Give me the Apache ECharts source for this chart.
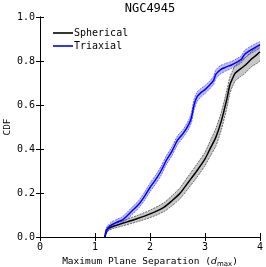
<!DOCTYPE html>
<html><head><meta charset="utf-8">
<script src="https://cdn.jsdelivr.net/npm/echarts@6/dist/echarts.min.js"></script>
<style>html,body{margin:0;padding:0;background:#fff}#c{width:266px;height:267px}</style>
</head><body><div id="c"></div>
<script>
var title = 'NGC4945';
var xTicks = [0, 1, 2, 3, 4];
var yTicks = [0.0, 0.2, 0.4, 0.6, 0.8, 1.0];

var sphX  = [1.18,1.20,1.25,1.35,1.50,1.75,2.00,2.25,2.40,2.55,2.70,2.85,3.00,3.10,3.20,3.30,3.40,3.45,3.50,3.55,3.65,3.75,3.85,3.95,4.00];
var sphMid= [0.000,0.025,0.040,0.050,0.062,0.082,0.105,0.135,0.165,0.200,0.250,0.300,0.355,0.405,0.455,0.530,0.630,0.690,0.720,0.745,0.765,0.785,0.810,0.830,0.842];
var sphLo = [0.000,0.015,0.030,0.040,0.050,0.068,0.088,0.115,0.142,0.175,0.222,0.270,0.325,0.370,0.415,0.490,0.590,0.650,0.685,0.710,0.730,0.750,0.775,0.790,0.800];
var sphHi = [0.000,0.035,0.050,0.060,0.074,0.096,0.122,0.155,0.188,0.225,0.278,0.330,0.385,0.440,0.495,0.570,0.670,0.725,0.755,0.780,0.800,0.820,0.845,0.865,0.878];

var triX  = [1.18,1.20,1.22,1.30,1.40,1.50,1.60,1.70,1.80,1.90,2.00,2.10,2.20,2.30,2.40,2.50,2.60,2.70,2.75,2.80,2.85,2.92,3.00,3.08,3.15,3.20,3.28,3.38,3.48,3.58,3.66,3.72,3.80,3.90,4.00];
var triMid= [0.000,0.020,0.035,0.055,0.068,0.078,0.100,0.125,0.150,0.185,0.225,0.260,0.300,0.350,0.390,0.440,0.470,0.510,0.540,0.600,0.635,0.655,0.670,0.690,0.710,0.740,0.760,0.772,0.782,0.795,0.808,0.830,0.845,0.860,0.873];
var triLo = [0.000,0.008,0.022,0.042,0.055,0.064,0.084,0.108,0.133,0.167,0.206,0.240,0.280,0.330,0.370,0.420,0.452,0.490,0.518,0.576,0.614,0.636,0.652,0.672,0.692,0.720,0.741,0.755,0.766,0.779,0.792,0.812,0.828,0.844,0.858];
var triHi = [0.000,0.032,0.048,0.068,0.081,0.092,0.116,0.142,0.167,0.203,0.244,0.280,0.320,0.370,0.410,0.460,0.488,0.530,0.562,0.624,0.656,0.674,0.688,0.708,0.728,0.760,0.779,0.789,0.798,0.811,0.824,0.848,0.862,0.876,0.888];

function pairs(xs, ys){ return xs.map(function(x,i){ return [x, ys[i]]; }); }

function bandSeries(name, xs, lo, hi, fill){
  return {
    type: 'custom', name: name + ' band', silent: true, z: 1,
    data: [[xs[0], lo[0]]],
    renderItem: function(params, api){
      var pts = [];
      for (var i = 0; i < xs.length; i++) pts.push(api.coord([xs[i], hi[i]]));
      for (var j = xs.length - 1; j >= 0; j--) pts.push(api.coord([xs[j], lo[j]]));
      return { type: 'polygon', shape: { points: pts }, style: { fill: fill, stroke: null } };
    }
  };
}
function edgeSeries(name, xs, ys, color){
  return { type: 'line', name: name, data: pairs(xs, ys), symbol: 'none', z: 2, silent: true, smooth: 0.25,
    lineStyle: { color: color, width: 0.7, type: [2, 1] } };
}

var mono = 'DejaVu Sans Mono';
var chart = echarts.init(document.getElementById('c'), null, { renderer: 'canvas' });
chart.setOption({
  animation: false,
  backgroundColor: '#fff',
  title: { text: title, left: 150, textAlign: 'center', top: 3, padding: 0,
    textStyle: { fontFamily: mono, fontSize: 12, fontWeight: 'normal', color: '#000' } },
  legend: { orient: 'vertical', left: 53, top: 28, padding: 0,
    itemWidth: 20, itemHeight: 1.6, itemGap: 3,
    data: [{ name: 'Spherical', icon: 'rect', itemStyle: { color: '#000' } },
           { name: 'Triaxial', icon: 'rect', itemStyle: { color: '#0000ff' } }],
    textStyle: { fontFamily: mono, fontSize: 10, color: '#000', padding: [0,0,0,-4] } },
  grid: { left: 40, right: 6, top: 17, bottom: 30, containLabel: false, outerBoundsMode: 'none' },
  xAxis: [{
    type: 'value', min: 0, max: 4, interval: 1,
    name: 'Maximum Plane Separation ({i|d}{s|max})', nameLocation: 'middle', nameGap: 19,
    nameMoveOverlap: false,
    nameTextStyle: { fontFamily: mono, fontSize: 9.5, color: '#000',
      rich: { i: { fontFamily: 'DejaVu Sans', fontStyle: 'italic', fontSize: 9.5, color: '#000' },
              s: { fontFamily: 'DejaVu Sans', fontSize: 7, color: '#000', padding: [5, 0, 0, 0] } } },
    axisLine: { lineStyle: { color: '#000', width: 1 } },
    axisTick: { inside: true, length: 4, lineStyle: { color: '#000' } },
    axisLabel: { fontFamily: mono, fontSize: 10, color: '#000', margin: 5 },
    splitLine: { show: false }
  }, {
    type: 'value', min: 0, max: 4, interval: 1, position: 'top',
    axisLine: { lineStyle: { color: '#000', width: 1 } },
    axisTick: { inside: true, length: 4, lineStyle: { color: '#000' } },
    axisLabel: { show: false }, splitLine: { show: false }
  }],
  yAxis: [{
    type: 'value', min: 0, max: 1, interval: 0.2,
    name: 'CDF', nameLocation: 'middle', nameGap: 27, nameRotate: 90, nameMoveOverlap: false,
    nameTextStyle: { fontFamily: mono, fontSize: 9.5, color: '#000' },
    axisLine: { show: true, lineStyle: { color: '#000', width: 1 } },
    axisTick: { show: true, inside: true, length: 4, lineStyle: { color: '#000' } },
    axisLabel: { fontFamily: mono, fontSize: 10, color: '#000', margin: 5,
      formatter: function(v){ return v.toFixed(1); } },
    splitLine: { show: false }
  }, {
    type: 'value', min: 0, max: 1, interval: 0.2, position: 'right',
    axisLine: { show: true, lineStyle: { color: '#000', width: 1 } },
    axisTick: { show: true, inside: true, length: 4, lineStyle: { color: '#000' } },
    axisLabel: { show: false }, splitLine: { show: false }
  }],
  series: [
    bandSeries('Spherical', sphX, sphLo, sphHi, 'rgba(0,0,0,0.22)'),
    edgeSeries('sphLo', sphX, sphLo, '#333'),
    edgeSeries('sphHi', sphX, sphHi, '#333'),
    bandSeries('Triaxial', triX, triLo, triHi, 'rgba(0,0,255,0.25)'),
    edgeSeries('triLo', triX, triLo, '#3a3aff'),
    edgeSeries('triHi', triX, triHi, '#3a3aff'),
    { type: 'line', name: 'Spherical', data: pairs(sphX, sphMid), symbol: 'none', z: 3, smooth: 0.25,
      lineStyle: { color: '#000', width: 1.5 }, itemStyle: { color: '#000' } },
    { type: 'line', name: 'Triaxial', data: pairs(triX, triMid), symbol: 'none', z: 4, smooth: 0.25,
      lineStyle: { color: '#0000ff', width: 1.5 }, itemStyle: { color: '#0000ff' } }
  ]
});
</script></body></html>
